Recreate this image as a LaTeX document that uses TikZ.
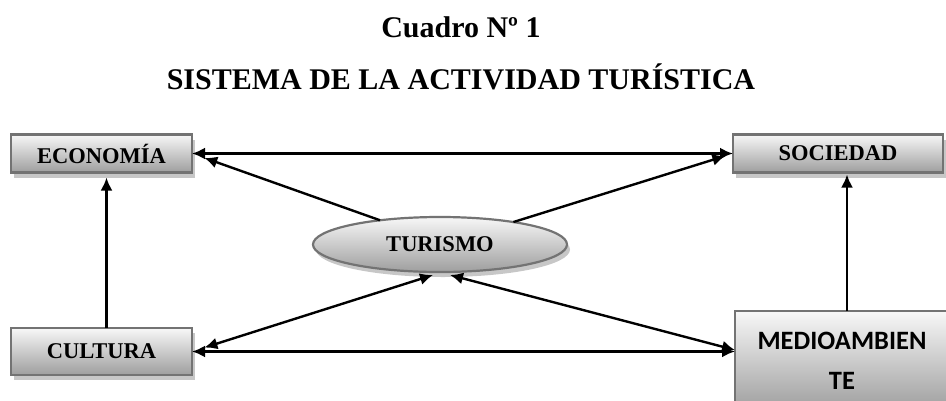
\documentclass[tikz,border=0pt]{standalone}
\usepackage{fontspec}
\setmainfont{Liberation Serif}
\newfontfamily\carlito{Carlito}
\usepackage{tikz}
\usetikzlibrary{arrows.meta,positioning,shapes.geometric,shadows}

\begin{document}
\begin{tikzpicture}[->, >={Latex[length=13pt,width=12pt]}, x=1pt, y=-1pt]
        \tikzstyle{every edge}=[draw, line width=2.4pt]
        \tikzstyle{box}=[rectangle, draw=black!55, line width=2.2pt, top color=black!3, bottom color=black!38, inner sep=0pt, outer sep=0pt, font=\bfseries\fontsize{22.5}{26}\selectfont, drop shadow={shadow xshift=3pt, shadow yshift=-5pt, fill=black!22, opacity=1}]
        \tikzstyle{titulo}=[anchor=base, font=\bfseries\fontsize{30}{36}\selectfont]
        \useasboundingbox (0,0) rectangle (946,400);

        \node[titulo] (cuadro) at (461,37) {Cuadro Nº 1};
        \node[titulo] (sistema) at (461,89) {SISTEMA DE LA ACTIVIDAD TURÍSTICA};

        \node[box, minimum width=181pt, minimum height=38pt] (eco) at (101.5,153.5) {ECONOMÍA};
        \node[box, minimum width=210pt, minimum height=38pt] (soc) at (838,153.5) {SOCIEDAD};
        \node[box, minimum width=181pt, minimum height=47pt] (cul) at (101.5,351.5) {CULTURA};
        \node[box, minimum width=214pt, minimum height=100pt, align=center, font=\carlito\bfseries\fontsize{26.5}{40}\selectfont] (med) at (842,361) {MEDIOAMBIEN\\TE};
        \node[box, ellipse, minimum width=254pt, minimum height=55pt] (tur) at (440,244.5) {TURISMO};

        \path

        (eco.east)
        edge [<->] (soc.west)

        (tur.158)
        edge [shorten >=13pt] (eco.east)

        (tur.17)
        edge [shorten >=8pt] (soc.west)

        (cul.east)
        edge [<->] (cul.east -| med.west)
        edge [<->, shorten <=13pt] ([xshift=-7pt,yshift=-3pt]tur.south)

        ([yshift=11pt]med.west)
        edge [<->] ([xshift=10pt,yshift=-3pt]tur.south)

        ([xshift=5pt]cul.north)
        edge ([xshift=5pt,yshift=-5pt]eco.south)

        ([xshift=5pt]med.north)
        edge ([xshift=9pt,yshift=-2pt]soc.south);
    \end{tikzpicture}
\end{document}
